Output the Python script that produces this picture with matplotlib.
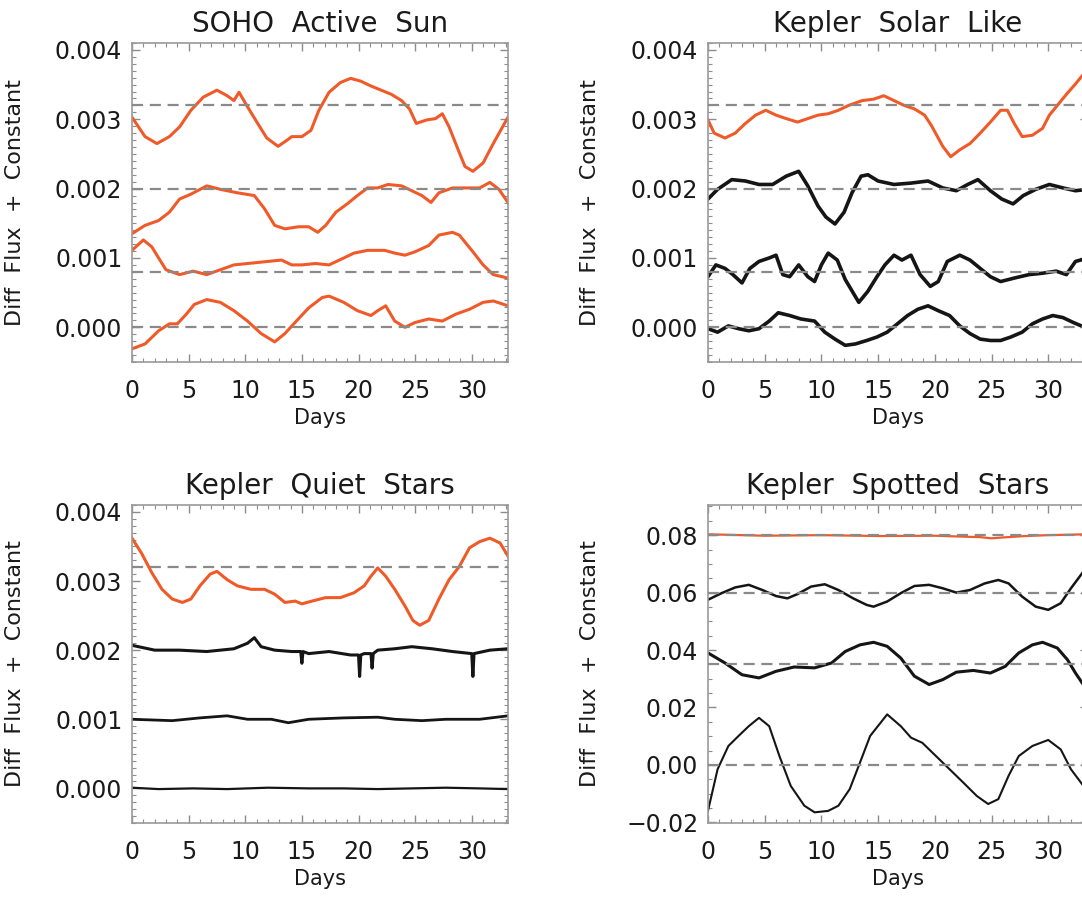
import matplotlib
matplotlib.use("Agg")
import matplotlib.pyplot as plt
from matplotlib.ticker import MultipleLocator, FuncFormatter

# values; flux in units of 1e-3 (ppt) for the first three panels
ppt = 1e-3

# SOHO Active Sun
soho_a_days = [0, 1.15, 2.2, 3.3, 4.2, 5.2, 6.3, 7.5, 8.4, 9.0, 9.45, 10.2, 11.1, 11.9, 12.9, 13.7,
               14.1, 15.0, 15.8, 16.5, 17.4, 18.4, 19.3, 20.2, 21.1, 22.0, 22.9, 23.8, 24.5, 25.1,
               26.0, 26.8, 27.4, 28.0, 28.8, 29.4, 30.1, 31.0, 31.9, 33.2]
soho_a = [3.03, 2.75, 2.65, 2.75, 2.89, 3.13, 3.32, 3.42, 3.34, 3.27, 3.39, 3.18, 2.94, 2.73, 2.61,
          2.70, 2.75, 2.75, 2.84, 3.13, 3.39, 3.53, 3.59, 3.55, 3.48, 3.42, 3.36, 3.27, 3.15, 2.94,
          2.99, 3.01, 3.08, 2.89, 2.56, 2.32, 2.25, 2.37, 2.65, 3.03]
soho_b_days = [0, 1.15, 2.35, 3.3, 4.2, 5.2, 6.6, 7.8, 9.3, 10.8, 11.7, 12.6, 13.5, 14.7, 15.6, 16.4,
               17.1, 18.0, 19.0, 19.9, 20.8, 21.7, 22.6, 23.8, 24.7, 25.6, 26.4, 27.1, 28.3, 29.5,
               30.7, 31.6, 32.4, 33.2]
soho_b = [1.35, 1.47, 1.54, 1.66, 1.85, 1.92, 2.04, 1.99, 1.94, 1.90, 1.71, 1.47, 1.42, 1.45, 1.45,
          1.37, 1.47, 1.66, 1.78, 1.90, 2.01, 2.01, 2.06, 2.04, 1.97, 1.90, 1.80, 1.94, 2.01, 2.01,
          2.01, 2.09, 1.99, 1.80]
soho_c_days = [0, 1.0, 1.75, 2.35, 3.0, 4.2, 5.4, 6.6, 7.8, 9.0, 10.2, 12.0, 13.2, 14.1, 15.0, 16.2,
               17.4, 18.7, 19.6, 20.8, 22.3, 23.2, 24.1, 25.0, 26.2, 27.1, 28.3, 28.9, 30.1, 31.0,
               31.9, 33.2]
soho_c = [1.11, 1.26, 1.16, 1.00, 0.83, 0.76, 0.81, 0.76, 0.83, 0.90, 0.92, 0.95, 0.97, 0.90, 0.90,
          0.92, 0.90, 1.00, 1.07, 1.11, 1.11, 1.07, 1.04, 1.09, 1.18, 1.33, 1.37, 1.33, 1.09, 0.90,
          0.76, 0.71]
soho_d_days = [0, 1.15, 2.35, 3.3, 4.0, 4.8, 5.5, 6.6, 7.8, 9.0, 10.2, 11.4, 12.6, 13.5, 14.4, 15.6,
               16.8, 17.4, 18.7, 19.9, 21.1, 21.7, 22.4, 23.2, 24.1, 25.0, 26.2, 27.4, 28.6, 29.8,
               31.0, 31.9, 33.2]
soho_d = [-0.31, -0.24, -0.05, 0.05, 0.05, 0.19, 0.33, 0.40, 0.36, 0.24, 0.09, -0.09, -0.21, -0.09,
          0.07, 0.28, 0.43, 0.45, 0.36, 0.24, 0.17, 0.24, 0.31, 0.09, 0.00, 0.07, 0.12, 0.09, 0.19,
          0.26, 0.36, 0.38, 0.31]

# Kepler Solar Like
solar_a_days = [0, 0.55, 1.5, 2.4, 3.3, 4.2, 5.1, 6.0, 6.9, 7.9, 8.8, 9.7, 10.6, 11.5, 12.4, 13.6,
                14.6, 15.5, 16.4, 17.3, 18.2, 19.1, 19.7, 20.7, 21.4, 22.2, 23.1, 24.0, 24.9, 25.8,
                26.4, 27.0, 27.7, 28.6, 29.5, 30.1, 30.9, 31.6, 32.4, 33.1, 33.5]
solar_a = [2.99, 2.80, 2.73, 2.80, 2.94, 3.06, 3.13, 3.06, 3.01, 2.96, 3.01, 3.06, 3.08, 3.13, 3.20,
           3.27, 3.29, 3.34, 3.27, 3.20, 3.15, 3.06, 2.91, 2.61, 2.46, 2.56, 2.65, 2.80, 2.96, 3.13,
           3.13, 2.94, 2.75, 2.77, 2.87, 3.06, 3.22, 3.36, 3.51, 3.65, 3.72]
solar_b_days = [0, 0.85, 2.1, 3.3, 4.5, 5.7, 6.9, 8.0, 8.8, 9.7, 10.4, 11.2, 12.0, 12.7, 13.5, 14.1,
                15.0, 16.4, 17.9, 19.4, 20.7, 21.9, 22.9, 23.8, 24.9, 25.9, 26.9, 27.8, 28.9, 30.1,
                31.3, 32.4, 33.5]
solar_b = [1.85, 1.99, 2.13, 2.11, 2.06, 2.06, 2.18, 2.25, 2.04, 1.75, 1.59, 1.49, 1.66, 1.94, 2.18,
           2.20, 2.11, 2.06, 2.08, 2.11, 2.01, 1.97, 2.06, 2.13, 1.97, 1.85, 1.78, 1.90, 1.99, 2.06,
           2.01, 1.97, 1.99]
solar_c_days = [0, 0.7, 1.5, 2.2, 3.0, 3.7, 4.5, 5.4, 6.0, 6.6, 7.2, 8.0, 8.8, 9.4, 10.0, 10.6, 11.4,
                12.1, 12.9, 13.3, 14.1, 14.9, 15.6, 16.4, 17.1, 17.9, 18.7, 19.6, 20.3, 21.1, 22.2,
                23.1, 24.0, 24.9, 25.8, 27.0, 28.3, 29.5, 30.7, 31.6, 32.4, 33.5]
solar_c = [0.73, 0.90, 0.85, 0.76, 0.64, 0.85, 0.95, 1.00, 1.04, 0.76, 0.73, 0.90, 0.73, 0.66, 0.90,
           1.07, 0.97, 0.69, 0.47, 0.36, 0.52, 0.73, 0.90, 1.04, 0.97, 1.04, 0.76, 0.59, 0.66, 0.95,
           1.04, 0.97, 0.85, 0.73, 0.66, 0.71, 0.76, 0.78, 0.81, 0.76, 0.95, 1.00]
solar_d_days = [0, 0.85, 1.8, 2.7, 3.6, 4.5, 5.4, 6.2, 7.2, 8.2, 9.4, 10.3, 11.2, 12.1, 13.0, 14.0,
                14.9, 15.8, 16.7, 17.6, 18.5, 19.4, 20.3, 21.3, 22.2, 23.1, 24.0, 24.9, 25.8, 26.7,
                27.7, 28.6, 29.5, 30.4, 31.3, 32.2, 33.5]
solar_d = [-0.02, -0.07, 0.02, -0.02, -0.05, -0.02, 0.09, 0.21, 0.17, 0.12, 0.09, -0.07, -0.17,
           -0.26, -0.24, -0.19, -0.14, -0.07, 0.05, 0.17, 0.26, 0.31, 0.24, 0.17, 0.02, -0.09, -0.17,
           -0.19, -0.19, -0.14, -0.07, 0.05, 0.12, 0.17, 0.14, 0.07, -0.02]

# Kepler Quiet Stars
quiet_a_days = [0, 0.85, 1.75, 2.65, 3.55, 4.45, 5.2, 6.0, 6.9, 7.5, 8.4, 9.3, 10.5, 11.7, 12.6, 13.5,
                14.4, 15.0, 15.9, 17.1, 18.4, 19.6, 20.5, 21.1, 21.7, 22.4, 23.2, 24.1, 24.8, 25.4,
                26.2, 27.1, 28.0, 28.9, 29.8, 30.7, 31.6, 32.5, 33.2]
quiet_a = [3.62, 3.40, 3.12, 2.88, 2.74, 2.69, 2.74, 2.93, 3.10, 3.14, 3.02, 2.93, 2.88, 2.88, 2.81,
           2.69, 2.71, 2.67, 2.71, 2.76, 2.76, 2.83, 2.93, 3.07, 3.19, 3.07, 2.88, 2.64, 2.43, 2.36,
           2.43, 2.74, 3.02, 3.21, 3.48, 3.57, 3.62, 3.55, 3.36]
quiet_b_days = [0, 2.0, 4.2, 6.6, 9.0, 10.2, 10.8, 11.4, 12.6, 14.1, 14.9, 15.0, 15.1, 15.6, 17.4,
                19.3, 20.0, 20.1, 20.2, 20.5, 21.1, 21.2, 21.3, 21.7, 23.2, 24.7, 26.5, 28.3, 30.0,
                30.1, 30.2, 31.6, 33.2]
quiet_b = [2.07, 2.00, 2.00, 1.98, 2.02, 2.10, 2.18, 2.05, 2.00, 1.98, 1.98, 1.81, 1.98, 1.95, 1.98,
           1.93, 1.93, 1.62, 1.93, 1.95, 1.95, 1.74, 1.95, 2.00, 2.02, 2.05, 2.02, 1.98, 1.95, 1.62,
           1.95, 2.00, 2.02]
quiet_c_days = [0, 3.55, 6.0, 8.4, 10.2, 12.3, 13.8, 15.6, 18.7, 21.7, 23.2, 25.6, 27.7, 30.7, 33.2]
quiet_c = [1.00, 0.98, 1.02, 1.05, 1.00, 1.00, 0.95, 1.00, 1.02, 1.03, 1.00, 0.98, 1.00, 1.00, 1.05]
quiet_d_days = [0, 2.35, 5.4, 8.4, 12.0, 15.6, 18.7, 21.7, 24.7, 27.7, 30.7, 33.2]
quiet_d = [0.01, -0.01, 0.0, -0.01, 0.01, 0.0, 0.0, -0.01, 0.0, 0.01, 0.0, -0.01]

# Kepler Spotted Stars (plain flux units)
spot_a_days = [0, 5, 10, 15, 20, 24, 25, 26, 28, 30, 33.5]
spot_a = [0.0803, 0.0798, 0.0800, 0.0797, 0.0798, 0.0793, 0.0789, 0.0792, 0.0797, 0.0800, 0.0803]
spot_b_days = [0, 1.2, 2.4, 3.6, 4.8, 6.0, 7.0, 7.9, 9.1, 10.3, 11.5, 12.8, 14.0, 14.6, 15.8, 17.0,
               18.2, 19.5, 20.7, 21.9, 23.1, 24.4, 25.6, 26.5, 27.7, 28.9, 30.0, 31.1, 32.0, 33.0, 33.5]
spot_b = [0.0575, 0.0598, 0.0618, 0.0627, 0.0609, 0.0588, 0.0580, 0.0595, 0.0621, 0.0629, 0.0609,
          0.0580, 0.0557, 0.0551, 0.0569, 0.0598, 0.0623, 0.0627, 0.0615, 0.0600, 0.0609, 0.0632,
          0.0644, 0.0632, 0.0586, 0.0551, 0.0540, 0.0563, 0.0615, 0.0668, 0.0700]
spot_c_days = [0, 1.5, 3.0, 4.5, 6.0, 7.6, 9.4, 10.9, 12.1, 13.4, 14.6, 15.8, 17.0, 18.2, 19.5, 20.7,
               21.9, 23.4, 24.9, 26.2, 27.4, 28.6, 29.5, 30.8, 31.7, 32.4, 33.0, 33.5]
spot_c = [0.0390, 0.0355, 0.0314, 0.0303, 0.0326, 0.0341, 0.0338, 0.0355, 0.0395, 0.0418, 0.0427,
          0.0413, 0.0372, 0.0309, 0.0280, 0.0297, 0.0323, 0.0329, 0.0320, 0.0343, 0.0390, 0.0418,
          0.0427, 0.0407, 0.0366, 0.0320, 0.0285, 0.0260]
spot_d_days = [0, 0.85, 1.8, 2.7, 3.6, 4.5, 5.4, 6.3, 7.3, 8.5, 9.4, 10.6, 11.5, 12.5, 13.4, 14.3,
               15.8, 17.0, 17.9, 18.9, 20.1, 21.3, 22.5, 23.7, 24.7, 25.6, 26.5, 27.4, 28.6, 30.0,
               31.1, 32.0, 33.1, 33.5]
spot_d = [-0.0160, -0.0015, 0.0066, 0.0101, 0.0135, 0.0164, 0.0135, 0.0031, -0.0073, -0.0142,
          -0.0165, -0.0160, -0.0142, -0.0084, 0.0008, 0.0101, 0.0176, 0.0135, 0.0095, 0.0077, 0.0031,
          -0.0015, -0.0061, -0.0108, -0.0136, -0.0119, -0.0038, 0.0031, 0.0066, 0.0087, 0.0054,
          -0.0015, -0.0073, -0.0095]

# dashed reference levels
soho_levels = [3.2, 2.0, 0.8, 0.0]
solar_levels = [3.2, 2.0, 0.8, 0.0]
quiet_levels = [3.2]
spot_levels = [0.08, 0.06, 0.035, 0.0]

orange = '#f05a28'
black = '#151515'
grey = '#8a8a8a'

plt.rcParams['font.family'] = ['DejaVu Sans']
plt.rcParams['lines.solid_joinstyle'] = 'round'
fig = plt.figure(figsize=(10.82, 9.0), dpi=100)

ax_tl = fig.add_axes([0.1220, 0.5978, 0.3475, 0.3544])
ax_tr = fig.add_axes([0.6543, 0.5978, 0.3512, 0.3544])
ax_bl = fig.add_axes([0.1220, 0.0856, 0.3475, 0.3533])
ax_br = fig.add_axes([0.6543, 0.0856, 0.3512, 0.3533])


def style(ax, title, xmax, ylim, major, minor, fmt, lab_x):
	ax.set_xlim(0, xmax)
	ax.set_ylim(*ylim)
	ax.xaxis.set_major_locator(MultipleLocator(5))
	ax.xaxis.set_minor_locator(MultipleLocator(1))
	ax.yaxis.set_major_locator(MultipleLocator(major))
	ax.yaxis.set_minor_locator(MultipleLocator(minor))
	ax.yaxis.set_major_formatter(FuncFormatter(lambda v, p: (fmt % v).replace('-', '\u2212')))
	ax.tick_params(which='both', direction='in', top=True, right=True, color='#8c8c8c',
				   labelcolor='#1a1a1a', labelsize=17)
	ax.tick_params(which='major', length=6, width=1.0)
	ax.tick_params(which='minor', length=3, width=0.8)
	ax.tick_params(axis='x', pad=12)
	ax.tick_params(axis='y', pad=7)
	for s in ax.spines.values():
		s.set_color('#9a9a9a')
		s.set_linewidth(1.2)
	ax.set_title(title, fontsize=20, pad=8, color='#1a1a1a')
	ax.set_xlabel("Days", fontsize=15, labelpad=4, color='#1a1a1a')
	ax.set_ylabel("Diff  Flux  +  Constant", fontsize=16, color='#1a1a1a')
	ax.yaxis.set_label_coords(lab_x, 0.5)


def levels(ax, vals, scale, xmax):
	for v in vals:
		ax.plot([0, xmax], [v * scale, v * scale], c=grey, lw=1.6, dashes=(5, 3), zorder=3)


def ppt_list(vals):
	return [v * ppt for v in vals]


# SOHO Active Sun
ax_tl.plot(soho_a_days, ppt_list(soho_a), c=orange, lw=2.2)
ax_tl.plot(soho_b_days, ppt_list(soho_b), c=orange, lw=2.2)
ax_tl.plot(soho_c_days, ppt_list(soho_c), c=orange, lw=2.2)
ax_tl.plot(soho_d_days, ppt_list(soho_d), c=orange, lw=2.2)
levels(ax_tl, soho_levels, ppt, 33.2)
style(ax_tl, "SOHO  Active  Sun", 33.2, (-0.0005, 0.0041), 0.001, 0.0001, '%.3f', -0.285)

# Kepler Solar Like
ax_tr.plot(solar_a_days, ppt_list(solar_a), c=orange, lw=2.2)
ax_tr.plot(solar_b_days, ppt_list(solar_b), c=black, lw=2.6)
ax_tr.plot(solar_c_days, ppt_list(solar_c), c=black, lw=2.6)
ax_tr.plot(solar_d_days, ppt_list(solar_d), c=black, lw=2.6)
levels(ax_tr, solar_levels, ppt, 33.5)
style(ax_tr, "Kepler  Solar  Like", 33.5, (-0.0005, 0.0041), 0.001, 0.0001, '%.3f', -0.285)

# Kepler Quiet Stars
ax_bl.plot(quiet_a_days, ppt_list(quiet_a), c=orange, lw=2.2)
ax_bl.plot(quiet_b_days, ppt_list(quiet_b), c=black, lw=2.2)
ax_bl.plot(quiet_c_days, ppt_list(quiet_c), c=black, lw=2.0)
ax_bl.plot(quiet_d_days, ppt_list(quiet_d), c=black, lw=1.6)
levels(ax_bl, quiet_levels, ppt, 33.2)
style(ax_bl, "Kepler  Quiet  Stars", 33.2, (-0.0005, 0.0041), 0.001, 0.0001, '%.3f', -0.285)

# Kepler Spotted Stars
ax_br.plot(spot_a_days, spot_a, c=orange, lw=1.6)
ax_br.plot(spot_b_days, spot_b, c=black, lw=1.8)
ax_br.plot(spot_c_days, spot_c, c=black, lw=2.2)
ax_br.plot(spot_d_days, spot_d, c=black, lw=1.5)
levels(ax_br, spot_levels, 1.0, 33.5)
style(ax_br, "Kepler  Spotted  Stars", 33.5, (-0.0202, 0.0905), 0.02, 0.005, '%.2f', -0.285)

plt.savefig("out.png", dpi=100)
